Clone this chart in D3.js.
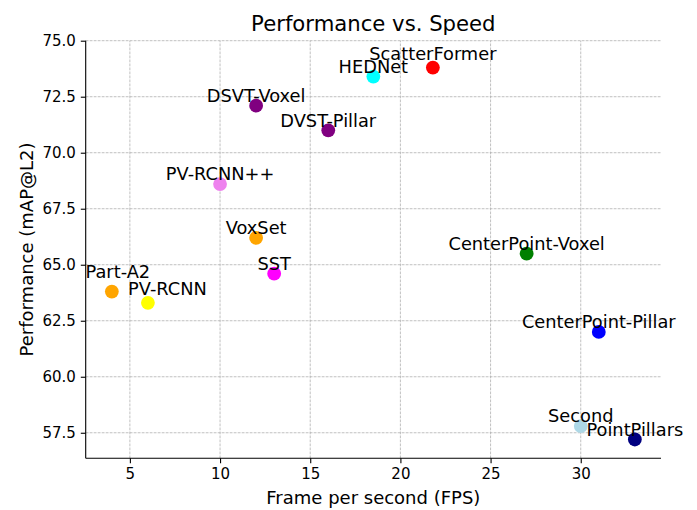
<!DOCTYPE html>
<html>
  <head>
    <meta charset="utf-8">
    <script src="https://cdn.jsdelivr.net/npm/d3@7"></script>
    <style>
      body { margin: 0; background: #fff; }
      text { font-family: "DejaVu Sans", sans-serif; fill: #000; }
      .grid line { stroke: #b0b0b0; stroke-width: 0.8; stroke-dasharray: 2.8, 1.2; }
      .axis path, .axis line { stroke: #000; stroke-width: 1.1; }
      .axis text { font-size: 15px; }
    </style>
  </head>
  <body>
    <script type="text/javascript">
      // models, speed (FPS) and accuracy (mAP@L2)
      var models = ["Part-A2", "PV-RCNN", "VoxSet", "SST", "PV-RCNN++", "DSVT-Voxel",
                    "DVST-Pillar", "HEDNet", "ScatterFormer", "CenterPoint-Voxel",
                    "CenterPoint-Pillar", "Second", "PointPillars"];
      var fps  = [4, 6, 12, 13, 10, 12, 16, 18.5, 21.8, 27, 31, 30, 33];
      var mapL2 = [63.8, 63.3, 66.2, 64.6, 68.6, 72.1, 71.0, 73.4, 73.8, 65.5, 62.0, 57.8, 57.2];
      var xTicks = [5, 10, 15, 20, 25, 30];
      var yTicks = [57.5, 60.0, 62.5, 65.0, 67.5, 70.0, 72.5, 75.0];

      // styling
      var colors = ["orange", "yellow", "orange", "magenta", "violet", "purple",
                    "purple", "cyan", "red", "green", "blue", "lightblue", "navy"];
      // label nudges in pixels (most sit just above their point)
      var nudge = {
        "Part-A2": [6, -14],
        "PV-RCNN": [19.5, -7.7],
        "ScatterFormer": [0, -8]
      };

      var width = 697, height = 510;
      var margin = {top: 40.7, right: 36, bottom: 51.7, left: 85.7};

      var svg = d3.select("body").append("svg")
          .attr("width", width)
          .attr("height", height);

      var x = d3.scaleLinear()
          .domain([2.55, 34.45])
          .range([margin.left, width - margin.right]);
      var y = d3.scaleLinear()
          .domain([56.36, 75.0])
          .range([height - margin.bottom, margin.top]);

      // grid
      var grid = svg.append("g").attr("class", "grid");
      grid.selectAll("line.gx").data(xTicks).enter().append("line")
          .attr("x1", d => x(d)).attr("x2", d => x(d))
          .attr("y1", y.range()[0]).attr("y2", y.range()[1]);
      grid.selectAll("line.gy").data(yTicks).enter().append("line")
          .attr("y1", d => y(d)).attr("y2", d => y(d))
          .attr("x1", x.range()[0]).attr("x2", x.range()[1]);

      // axes (left and bottom only)
      svg.append("g")
          .attr("class", "axis")
          .attr("transform", "translate(0," + y.range()[0] + ")")
          .call(d3.axisBottom(x).tickValues(xTicks).tickSize(4.9).tickPadding(5).tickFormat(d3.format("d")))
          .call(g => g.selectAll("text").attr("font-family", "DejaVu Sans"));

      svg.append("g")
          .attr("class", "axis")
          .attr("transform", "translate(" + x.range()[0] + ",0)")
          .call(d3.axisLeft(y).tickValues(yTicks).tickSize(4.9).tickPadding(5).tickFormat(d3.format(".1f")))
          .call(g => g.selectAll("text").attr("font-family", "DejaVu Sans"));

      svg.selectAll(".axis path.domain")
          .attr("d", function () {
            return this.parentNode.getAttribute("transform").indexOf("translate(0,") === 0
              ? "M" + x.range()[0] + ",0H" + x.range()[1]
              : "M0," + y.range()[0] + "V" + y.range()[1];
          });

      // points
      svg.append("g").selectAll("circle")
          .data(models).enter().append("circle")
          .attr("cx", (d, i) => x(fps[i]))
          .attr("cy", (d, i) => y(mapL2[i]))
          .attr("r", 6.9)
          .attr("fill", (d, i) => colors[i]);

      // labels
      svg.append("g").selectAll("text")
          .data(models).enter().append("text")
          .attr("x", (d, i) => x(fps[i]) + (nudge[d] ? nudge[d][0] : 0))
          .attr("y", (d, i) => y(mapL2[i]) + (nudge[d] ? nudge[d][1] : -3.7))
          .attr("text-anchor", "middle")
          .style("font-size", "17.8px")
          .text(d => d);

      // title and axis labels
      svg.append("text")
          .attr("x", (x.range()[0] + x.range()[1]) / 2)
          .attr("y", 31)
          .attr("text-anchor", "middle")
          .style("font-size", "21.2px")
          .text("Performance vs. Speed");

      svg.append("text")
          .attr("x", (x.range()[0] + x.range()[1]) / 2)
          .attr("y", 504)
          .attr("text-anchor", "middle")
          .style("font-size", "18px")
          .text("Frame per second (FPS)");

      svg.append("text")
          .attr("transform", "translate(32.5," + (y.range()[0] + y.range()[1]) / 2 + ") rotate(-90)")
          .attr("text-anchor", "middle")
          .style("font-size", "18px")
          .text("Performance (mAP@L2)");
    </script>
  </body>
</html>
